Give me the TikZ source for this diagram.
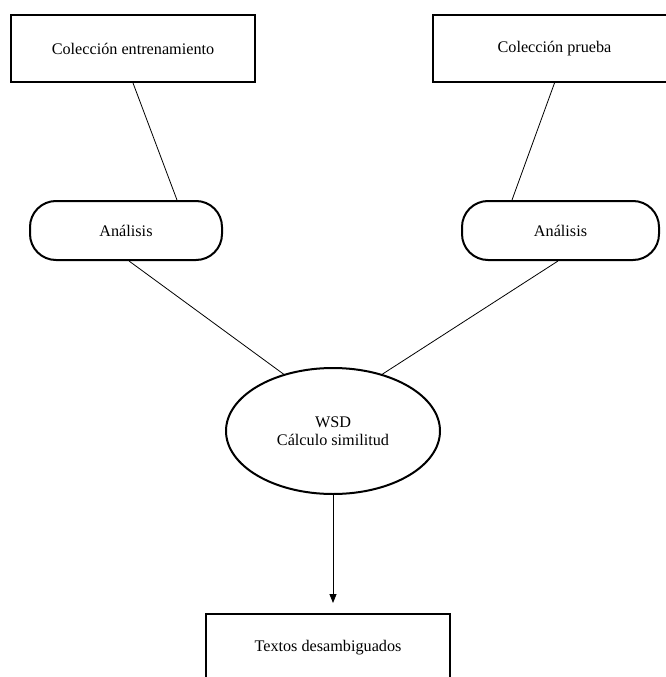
\documentclass[tikz,border=0pt]{standalone}
\usepackage{fontspec}
\setmainfont{Liberation Serif}
\usetikzlibrary{shapes.geometric,arrows.meta}
\begin{document}
\begin{tikzpicture}[x=1pt,y=1pt,
  every node/.style={font=\fontsize{16.2}{18}\selectfont, align=center, inner sep=0pt},
  databox/.style={draw, line width=2pt, minimum width=244pt, minimum height=67pt},
  procbox/.style={draw, line width=2pt, rounded corners=26pt, minimum height=59pt},
  calcnode/.style={draw, ellipse, line width=2pt, minimum width=214pt, minimum height=126pt},
  link/.style={line width=0.8pt},
  flow/.style={line width=0.8pt, -{Triangle[length=9pt,width=7pt]}}]
  \useasboundingbox (0,0) rectangle (666,-677);

  % source collections
  \node[databox] (c1) at (133,-48.5) {Colección entrenamiento};
  \node[databox] (c2) at (554.5,-48.5) {Colección prueba};

  % analysis stages
  \node[procbox, minimum width=192pt] (an1) at (126,-230.5) {Análisis};
  \node[procbox, minimum width=197pt] (an2) at (560.5,-230.5) {Análisis};

  % disambiguation step
  \node[calcnode] (wsd) at (333,-431) {WSD\\Cálculo similitud};

  % result
  \node[databox] (tx) at (328,-647.5) {Textos desambiguados};

  % connectors
  \draw[link] (c1.south) -- ([xshift=51pt]an1.north);
  \draw[link] (c2.south) -- ([xshift=-48.5pt]an2.north);
  \draw[link] ([xshift=3pt]an1.south) -- (wsd.131);
  \draw[link] ([xshift=-2.5pt]an2.south) -- (wsd.49);
  \draw[flow, shorten >=10pt] (wsd.south) -- (wsd.south |- tx.north);
\end{tikzpicture}
\end{document}
